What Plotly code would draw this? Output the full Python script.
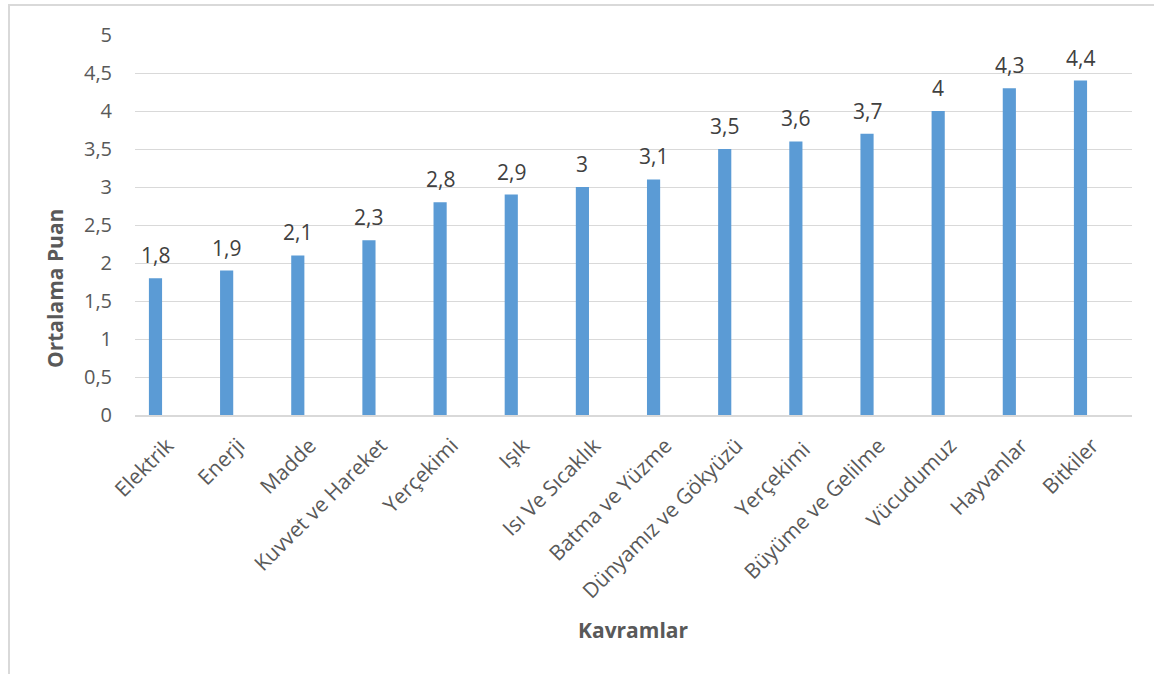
import plotly.graph_objects as go

# Mean score per concept
categories = [
    "Elektrik", "Enerji", "Madde", "Kuvvet ve Hareket", "Yerçekimi", "Işık",
    "Isı Ve Sıcaklık", "Batma ve Yüzme", "Dünyamız ve Gökyüzü", "Yerçekimi ",
    "Büyüme ve Gelilme", "Vücudumuz", "Hayvanlar", "Bitkiler",
]
values = [1.8, 1.9, 2.1, 2.3, 2.8, 2.9, 3.0, 3.1, 3.5, 3.6, 3.7, 4.0, 4.3, 4.4]
y_ticks = [0, 0.5, 1, 1.5, 2, 2.5, 3, 3.5, 4, 4.5, 5]

W, H = 1154, 674
L, R, T, B = 135, 22, 35, 259
plot_w = W - L - R
plot_h = H - T - B

def px_x(px):
    return (px - L) / plot_w

def px_y(py):
    return (H - B - py) / plot_h

FONT = "Open Sans"
GREY = "#595959"

fig = go.Figure()
fig.add_trace(go.Bar(
    x=list(range(len(categories))),
    y=values,
    width=0.185,
    marker=dict(color="#5B9BD5", line=dict(width=0)),
    hoverinfo="skip",
))

def fmt(v):
    s = f"{v:g}"
    return s.replace(".", ",")

annotations = []
for i, v in enumerate(values):
    annotations.append(dict(
        x=i, y=v, xref="x", yref="y", text=fmt(v), showarrow=False,
        yanchor="middle", xanchor="center", yshift=23,
        font=dict(family=FONT, size=21, color="#404040"),
    ))

annotations.append(dict(
    x=px_x(55), y=px_y(289), xref="paper", yref="paper", text="<b>Ortalama Puan</b>",
    textangle=-90, showarrow=False, xanchor="center", yanchor="middle",
    font=dict(family=FONT, size=21, color=GREY),
))
annotations.append(dict(
    x=px_x(633), y=px_y(630), xref="paper", yref="paper", text="<b>Kavramlar</b>",
    showarrow=False, xanchor="center", yanchor="middle",
    font=dict(family=FONT, size=21, color=GREY),
))

fig.update_layout(
    width=W, height=H,
    margin=dict(l=L, r=R, t=T, b=B),
    paper_bgcolor="white", plot_bgcolor="white",
    separators=", ",
    showlegend=False,
    annotations=annotations,
    shapes=[dict(
        type="rect", xref="paper", yref="paper",
        x0=px_x(9), x1=px_x(W + 20), y0=px_y(H + 20), y1=px_y(5),
        line=dict(color="#D9D9D9", width=2), fillcolor="rgba(0,0,0,0)", layer="below",
    )],
    xaxis=dict(
        tickmode="array", tickvals=list(range(len(categories))), ticktext=categories,
        range=[-0.288, 13.724], tickangle=-45,
        showgrid=False, zeroline=False,
        showline=True, linecolor="#D9D9D9", linewidth=2,
        ticks="", ticklabelshift=12, ticklabelstandoff=8,
        tickfont=dict(family=FONT, size=21, color=GREY),
    ),
    yaxis=dict(
        range=[0, 5], tickvals=y_ticks,
        showgrid=True, gridcolor="#D9D9D9", gridwidth=1.3,
        zeroline=False, showline=False, ticks="",
        ticklabelstandoff=22,
        tickfont=dict(family=FONT, size=20, color=GREY),
    ),
)

fig.write_html("out.html")
